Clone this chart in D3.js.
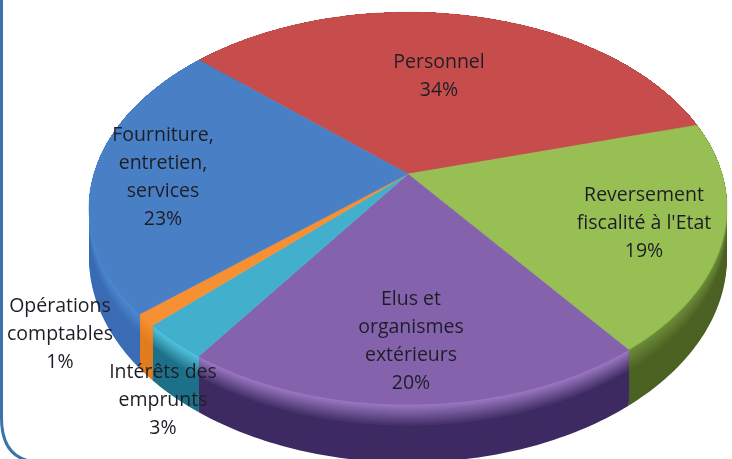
<!DOCTYPE html>
<html>
<head>
<meta charset="utf-8">
<script src="https://cdnjs.cloudflare.com/ajax/libs/d3/7.8.5/d3.min.js"></script>
<style>
  html, body { margin: 0; padding: 0; background: #fff; overflow: hidden; }
  text { font-family: "Open Sans", sans-serif; font-size: 19.5px; fill: #1f1f28; text-anchor: middle; }
</style>
</head>
<body>
<svg id="chart" width="732" height="459"></svg>
<script>
const categories = ['Personnel', 'Reversement fiscalité à l\'Etat', 'Elus et organismes extérieurs', 'Intérêts des emprunts', 'Opérations comptables', 'Fourniture, entretien, services'];
const values = [34, 19, 20, 3, 1, 23];
const labelLines = [
  ['Personnel'],
  ['Reversement', "fiscalité à l'Etat"],
  ['Elus et', 'organismes', 'extérieurs'],
  ['Intérêts des', 'emprunts'],
  ['Opérations', 'comptables'],
  ['Fourniture,', 'entretien,', 'services']
];
const topColors = ['#c64e4c', '#98bf52', '#8464ac', '#43b0cc', '#f79030', '#4a7fc4'];
const rimColors = ['#c0504d', '#6f8f3a', '#a07cc8', '#55c8e4', '#f79030', '#4f8ad4'];
const deepColors = ['#7a2f2d', '#4c6224', '#3e2c62', '#1f7088', '#e07c20', '#3a6cb5'];
// label centre (x, y of first line) for each slice
const labelAt = [[439, 68], [644, 201], [411, 305], [163, 378], [60, 312], [163, 141]];

const svg = d3.select('#chart');
const cx = 408, cy = 174, rx = 314, ry = 190, k = 0.175, depth = 48;

const soft = svg.append('defs').append('filter').attr('id', 'soft');
soft.append('feGaussianBlur').attr('stdDeviation', 0.6);

// tilted disc with perspective: near edge (v = 1) is bigger than the far edge
function project(angle, r = 1, drop = 0) {
  const u = r * Math.sin(angle), v = -r * Math.cos(angle);
  const w = 1 - k * v;
  return [cx + rx * u / w, cy + (ry * v + drop) / w];
}

const pie = d3.pie().sort(null)
  .startAngle(-48 * Math.PI / 180)
  .endAngle(312 * Math.PI / 180);
const arcs = pie(values);

function rimPoints(a0, a1, drop) {
  const n = Math.max(2, Math.ceil((a1 - a0) * 60));
  return d3.range(n + 1).map(i => project(a0 + (a1 - a0) * i / n, 1, drop));
}

const line = d3.line();
const chart = svg.append('g').attr('filter', 'url(#soft)');

// side walls, drawn in bands from the bottom up so the rim stays light
const bands = 30;
arcs.forEach((d, i) => {
  const colour = d3.interpolateRgb(rimColors[i], deepColors[i]);
  d3.range(bands, 0, -1).forEach(b => {
    const t = b / bands;
    const upper = rimPoints(d.startAngle, d.endAngle, 0);
    const lower = rimPoints(d.startAngle, d.endAngle, depth * t).reverse();
    chart.append('path')
      .attr('d', line(upper.concat(lower)) + 'Z')
      .attr('fill', colour(Math.min(1, t * 2.5)));
  });
});

// top face
arcs.forEach((d, i) => {
  const edge = rimPoints(d.startAngle, d.endAngle, 0);
  chart.append('path')
    .attr('d', line([project(0, 0)].concat(edge)) + 'Z')
    .attr('fill', topColors[i])
    .attr('stroke', topColors[i])
    .attr('stroke-width', 0.6);
});

// labels
const labels = svg.append('g').attr('filter', 'url(#soft)');
arcs.forEach((d, i) => {
  const lines = labelLines[i].concat([d.data + '%']);
  const t = labels.append('text').attr('aria-label', categories[i]);
  lines.forEach((s, j) => {
    t.append('tspan')
      .attr('x', labelAt[i][0])
      .attr('y', labelAt[i][1] + j * 28)
      .text(s);
  });
});

// frame round the slide
svg.append('path')
  .attr('d', 'M1.5,0 V418 Q1.5,459 36,462')
  .attr('fill', 'none')
  .attr('stroke', '#3b74ad')
  .attr('stroke-width', 3);
</script>
</body>
</html>
